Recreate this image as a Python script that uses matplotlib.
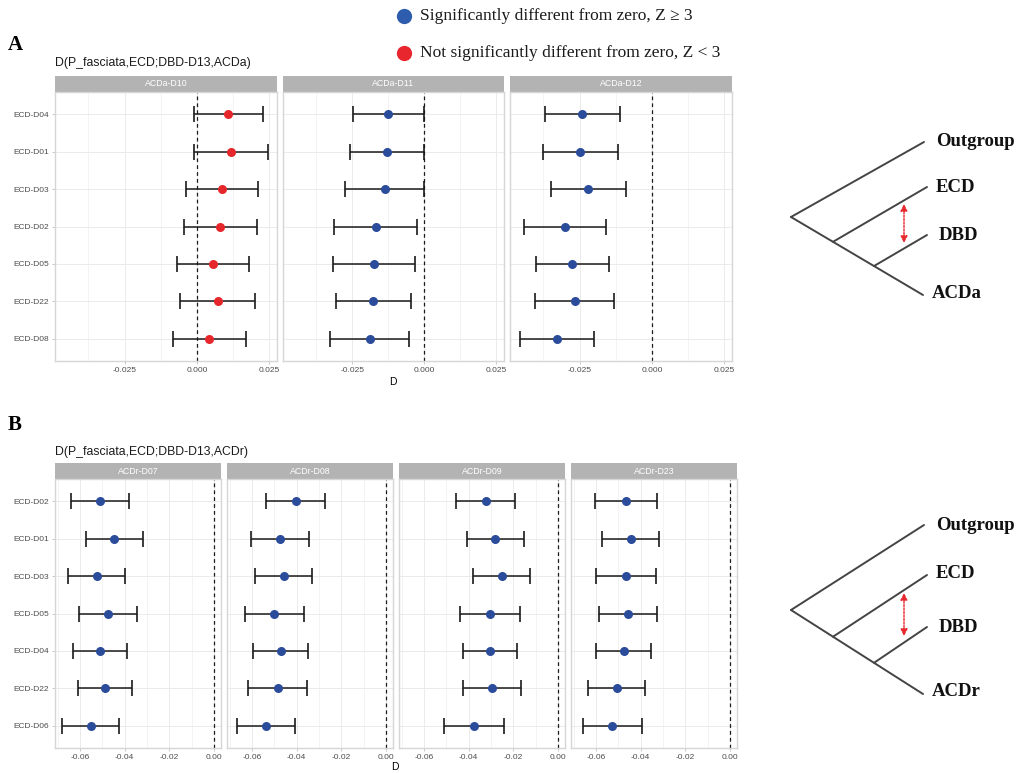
import numpy as np
import matplotlib
matplotlib.use("Agg")
from matplotlib import pyplot as plt

W, H = 1024, 773

# ---- panel A data (D and interval ends per facet, rows top to bottom) ----
a_title = "D(P_fasciata,ECD;DBD-D13,ACDa)"
a_rows = ["ECD-D04", "ECD-D01", "ECD-D03", "ECD-D02", "ECD-D05", "ECD-D22", "ECD-D08"]
a_facets = ["ACDa-D10", "ACDa-D11", "ACDa-D12"]
a_sig = [False, True, True]

a_d10 = [0.0106, 0.0117, 0.0087, 0.0081, 0.0056, 0.0071, 0.0043]
a_d10_lo = [-0.0012, -0.0009, -0.0038, -0.0046, -0.0068, -0.0058, -0.0083]
a_d10_hi = [0.0227, 0.0244, 0.0212, 0.0207, 0.0178, 0.0199, 0.0170]

a_d11 = [-0.0127, -0.0130, -0.0138, -0.0169, -0.0175, -0.0177, -0.0190]
a_d11_lo = [-0.0249, -0.0259, -0.0274, -0.0312, -0.0317, -0.0308, -0.0326]
a_d11_hi = [-0.0002, -0.0002, -0.0002, -0.0025, -0.0033, -0.0047, -0.0053]

a_d12 = [-0.0241, -0.0248, -0.0220, -0.0301, -0.0275, -0.0267, -0.0327]
a_d12_lo = [-0.0370, -0.0376, -0.0349, -0.0442, -0.0401, -0.0404, -0.0455]
a_d12_hi = [-0.0111, -0.0118, -0.0090, -0.0160, -0.0150, -0.0130, -0.0199]

a_ticks = [-0.025, 0.0, 0.025]
a_tick_labels = ["-0.025", "0.000", "0.025"]

# ---- panel B data ----
b_title = "D(P_fasciata,ECD;DBD-D13,ACDr)"
b_rows = ["ECD-D02", "ECD-D01", "ECD-D03", "ECD-D05", "ECD-D04", "ECD-D22", "ECD-D06"]
b_facets = ["ACDr-D07", "ACDr-D08", "ACDr-D09", "ACDr-D23"]
b_sig = [True, True, True, True]

b_d07 = [-0.0509, -0.0446, -0.0525, -0.0473, -0.0509, -0.0488, -0.0552]
b_d07_lo = [-0.0640, -0.0572, -0.0652, -0.0603, -0.0631, -0.0609, -0.0681]
b_d07_hi = [-0.0379, -0.0318, -0.0400, -0.0345, -0.0390, -0.0367, -0.0427]

b_d08 = [-0.0404, -0.0473, -0.0458, -0.0501, -0.0472, -0.0485, -0.0539]
b_d08_lo = [-0.0539, -0.0603, -0.0588, -0.0633, -0.0596, -0.0619, -0.0669]
b_d08_hi = [-0.0273, -0.0343, -0.0331, -0.0369, -0.0348, -0.0354, -0.0407]

b_d09 = [-0.0324, -0.0281, -0.0252, -0.0304, -0.0304, -0.0294, -0.0375]
b_d09_lo = [-0.0457, -0.0407, -0.0381, -0.0440, -0.0425, -0.0424, -0.0509]
b_d09_hi = [-0.0191, -0.0154, -0.0124, -0.0169, -0.0184, -0.0164, -0.0240]

b_d23 = [-0.0467, -0.0445, -0.0467, -0.0457, -0.0475, -0.0506, -0.0527]
b_d23_lo = [-0.0606, -0.0572, -0.0601, -0.0585, -0.0599, -0.0634, -0.0658]
b_d23_hi = [-0.0328, -0.0316, -0.0331, -0.0327, -0.0352, -0.0379, -0.0396]

b_ticks = [-0.06, -0.04, -0.02, 0.0]
b_tick_labels = ["-0.06", "-0.04", "-0.02", "0.00"]

legend_labels = ["Significantly different from zero, Z \u2265 3",
                 "Not significantly different from zero, Z < 3"]
tree_a_tips = ["Outgroup", "ECD", "DBD", "ACDa"]
tree_b_tips = ["Outgroup", "ECD", "DBD", "ACDr"]

BLUE = "#2B4B9B"
RED = "#E5272B"
STRIP = "#B3B3B3"
BORDER = "#D6D6D6"
GRID = "#EBEBEB"
TICKC = "#4D4D4D"
SANS = "Liberation Sans"
SERIF = "Liberation Serif"

fig = plt.figure(figsize=(W / 100, H / 100), dpi=100)
fig.patch.set_facecolor("white")


def px_axes(x0, y0, x1, y1):
    return fig.add_axes([x0 / W, 1 - y1 / H, (x1 - x0) / W, (y1 - y0) / H])


def fig_text(x, y, s, **kw):
    fig.text(x / W, 1 - y / H, s, **kw)


def facet(x0, x1, top, bottom, name, rows, d, lo, hi, sig, xlim, ticks, labels,
          show_y, minor):
    # strip
    sax = px_axes(x0, top - 16, x1, top)
    sax.set_facecolor(STRIP)
    sax.set_xticks([])
    sax.set_yticks([])
    for sp in sax.spines.values():
        sp.set_visible(False)
    sax.text(0.5, 0.5, name, color="white", fontsize=6.3, family=SANS,
             ha="center", va="center", transform=sax.transAxes)

    ax = px_axes(x0, top, x1, bottom)
    y = np.arange(1, len(rows) + 1)
    ax.set_xlim(*xlim)
    ax.set_ylim(len(rows) + 0.6, 0.4)
    ax.set_xticks(ticks)
    ax.set_xticklabels(labels)
    ax.set_xticks(minor, minor=True)
    ax.set_yticks(y)
    ax.set_yticklabels(rows if show_y else [])
    ax.grid(True, which="major", color=GRID, linewidth=0.7, zorder=0)
    ax.grid(True, which="minor", axis="x", color=GRID, linewidth=0.4, zorder=0)
    ax.set_axisbelow(True)
    ax.tick_params(which="both", length=2.5, width=0.5, color="#B3B3B3",
                   labelsize=6, labelcolor=TICKC, pad=2)
    ax.tick_params(which="minor", length=0)
    if not show_y:
        ax.tick_params(axis="y", length=0)
    for lab in ax.get_xticklabels() + ax.get_yticklabels():
        lab.set_family(SANS)
    for sp in ax.spines.values():
        sp.set_color(BORDER)
        sp.set_linewidth(1.0)

    d = np.array(d)
    err = np.vstack([d - np.array(lo), np.array(hi) - d])
    ax.errorbar(d, y, xerr=err, fmt="none", ecolor="#1A1A1A", elinewidth=1.1,
                capsize=5.5, capthick=1.2, zorder=2)
    ax.axvline(0, color="#1A1A1A", linestyle=(0, (3, 2.5)), linewidth=0.9, zorder=1)
    ax.plot(d, y, "o", color=BLUE if sig else RED, markersize=6.5,
            markeredgewidth=0, zorder=3)
    return ax


# ---- panel A ----
a_x = [(55, 277), (283, 504), (510, 732)]
a_vals = [(a_d10, a_d10_lo, a_d10_hi), (a_d11, a_d11_lo, a_d11_hi),
          (a_d12, a_d12_lo, a_d12_hi)]
for i, ((x0, x1), (d, lo, hi)) in enumerate(zip(a_x, a_vals)):
    facet(x0, x1, 92, 361, a_facets[i], a_rows, d, lo, hi, a_sig[i],
          (-0.049, 0.0276), a_ticks, a_tick_labels, i == 0,
          [-0.0375, -0.0125, 0.0125])

# ---- panel B ----
b_x = [(55, 221), (227, 393), (399, 565), (571, 737)]
b_vals = [(b_d07, b_d07_lo, b_d07_hi), (b_d08, b_d08_lo, b_d08_hi),
          (b_d09, b_d09_lo, b_d09_hi), (b_d23, b_d23_lo, b_d23_hi)]
for i, ((x0, x1), (d, lo, hi)) in enumerate(zip(b_x, b_vals)):
    facet(x0, x1, 479, 748, b_facets[i], b_rows, d, lo, hi, b_sig[i],
          (-0.0712, 0.0031), b_ticks, b_tick_labels, i == 0,
          [-0.07, -0.05, -0.03, -0.01])

# titles, axis labels, panel letters
fig_text(55, 63, a_title, fontsize=8.8, family=SANS, va="center", color="#1A1A1A")
fig_text(55, 452, b_title, fontsize=8.8, family=SANS, va="center", color="#1A1A1A")
fig_text(393, 382, "D", fontsize=7.5, family=SANS, ha="center", va="center")
fig_text(395, 767, "D", fontsize=7.5, family=SANS, ha="center", va="center")
fig_text(8, 45, "A", fontsize=15, family=SERIF, weight="bold", va="center")
fig_text(8, 425, "B", fontsize=15, family=SERIF, weight="bold", va="center")

# legend at top
overlay = fig.add_axes([0, 0, 1, 1])
overlay.set_xlim(0, W)
overlay.set_ylim(H, 0)
overlay.axis("off")
leg_y = [16, 53]
for yy, col, lab in zip(leg_y, ["#2E5DAE", "#E8262D"], legend_labels):
    overlay.plot(404, yy, "o", color=col, markersize=11, markeredgewidth=0)
    overlay.text(420, yy, lab, fontsize=12.5, family=SERIF, va="center",
                 color="#1A1A1A")


def tree(y0, tips, tip_y, label_y, arrow_y):
    # root, node positions in px; tips in order Outgroup, ECD, DBD, last
    root = (791, y0)
    last = (923, tip_y[3])
    slope = (last[1] - root[1]) / (last[0] - root[0])
    n1 = (833, root[1] + (833 - root[0]) * slope)
    n2 = (874, root[1] + (874 - root[0]) * slope)
    segs = [(root, (924, tip_y[0])), (root, last),
            (n1, (927, tip_y[1])), (n2, (927, tip_y[2]))]
    for (p, q) in segs:
        overlay.plot([p[0], q[0]], [p[1], q[1]], color="#444444", linewidth=1.4,
                     solid_capstyle="round")
    xs = [936, 936, 939, 932]
    for x, yy, t in zip(xs, label_y, tips):
        overlay.text(x, yy, t, fontsize=13.5, family=SERIF, weight="bold",
                     va="center", color="#111111")
    # red dotted double arrow between ECD and DBD
    overlay.annotate("", xy=(904, arrow_y[0]), xytext=(904, arrow_y[1]),
                     arrowprops=dict(arrowstyle="<|-|>", color="#E8262D",
                                     linestyle=(0, (1.5, 1)), linewidth=1.0,
                                     mutation_scale=10, shrinkA=0, shrinkB=0))


tree(217, tree_a_tips, [142, 187, 235, 295], [142, 187, 235, 293], (204, 243))
tree(610, tree_b_tips, [525, 575, 627, 694], [525, 573, 627, 692], (593, 636))

fig.savefig("out.png", dpi=100, facecolor="white")
